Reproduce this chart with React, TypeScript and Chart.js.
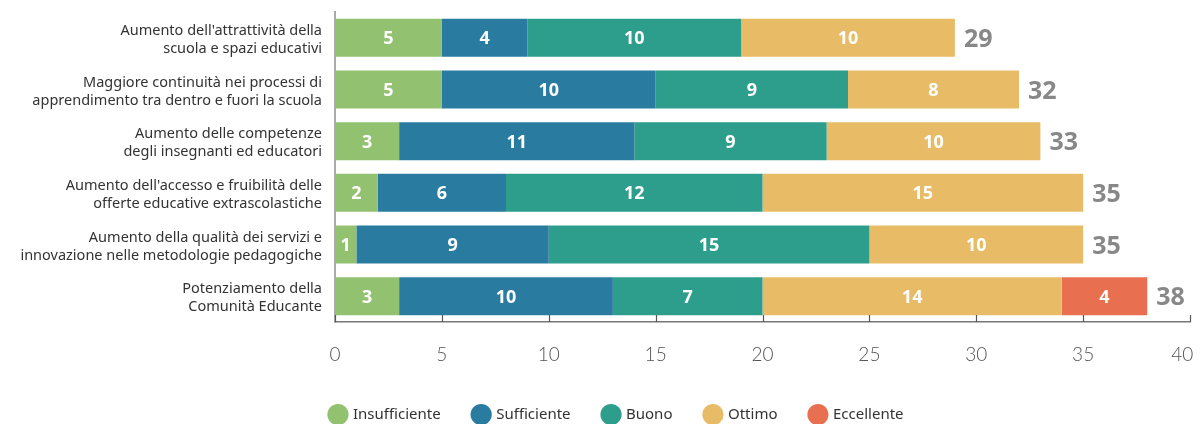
import React, { useEffect, useRef } from "react";
import { Chart, registerables } from "chart.js";

Chart.register(...registerables);

const categories: string[][] = [
  ["Aumento dell'attrattività della", "scuola e spazi educativi"],
  ["Maggiore continuità nei processi di", "apprendimento tra dentro e fuori la scuola"],
  ["Aumento delle competenze", "degli insegnanti ed educatori"],
  ["Aumento dell'accesso e fruibilità delle", "offerte educative extrascolastiche"],
  ["Aumento della qualità dei servizi e", "innovazione nelle metodologie pedagogiche"],
  ["Potenziamento della", "Comunità Educante"],
];

const insufficiente = [5, 5, 3, 2, 1, 3];
const sufficiente = [4, 10, 11, 6, 9, 10];
const buono = [10, 9, 9, 12, 15, 7];
const ottimo = [10, 8, 10, 15, 10, 14];
const eccellente = [null, null, null, null, null, 4];

const seriesNames = ["Insufficiente", "Sufficiente", "Buono", "Ottimo", "Eccellente"];
const seriesColors = ["#92C16F", "#2A7BA0", "#2E9E8C", "#E8BB66", "#E86F50"];
const xTicks = [0, 5, 10, 15, 20, 25, 30, 35, 40];

const FONT = "'Noto Sans', sans-serif";
const TICK_FONT = "Lato, 'Noto Sans', sans-serif";

const overlayPlugin = {
  id: "overlay",
  afterDatasetsDraw(chart: any) {
    const ctx = chart.ctx;
    const xScale = chart.scales.x;
    const area = chart.chartArea;
    ctx.save();
    ctx.strokeStyle = "#555";
    ctx.lineWidth = 1.2;
    xTicks.forEach((v) => {
      const px = Math.round(xScale.getPixelForValue(v)) + 0.5;
      ctx.beginPath();
      ctx.moveTo(px, area.bottom - 7);
      ctx.lineTo(px, area.bottom);
      ctx.stroke();
    });
    ctx.fillStyle = "#ffffff";
    ctx.font = `bold 18px ${FONT}`;
    ctx.textAlign = "center";
    ctx.textBaseline = "middle";
    chart.data.datasets.forEach((ds: any, di: number) => {
      const meta = chart.getDatasetMeta(di);
      meta.data.forEach((el: any, i: number) => {
        const v = ds.data[i];
        if (v == null || v === 0) return;
        const cx = (el.x + el.base) / 2;
        ctx.fillText(String(v), cx, el.y + 1.5);
      });
    });
    ctx.fillStyle = "#888888";
    ctx.font = `bold 25px ${FONT}`;
    ctx.textAlign = "left";
    categories.forEach((_, i) => {
      let total = 0;
      chart.data.datasets.forEach((ds: any) => {
        total += ds.data[i] || 0;
      });
      const el = chart.getDatasetMeta(0).data[i];
      const px = xScale.getPixelForValue(total);
      ctx.fillText(String(total), px + 9, el.y + 2);
    });
    ctx.restore();
  },
};

export default function App() {
  const ref = useRef<HTMLCanvasElement | null>(null);
  useEffect(() => {
    if (!ref.current) return;
    const data = [insufficiente, sufficiente, buono, ottimo, eccellente];
    const chart = new Chart(ref.current, {
      type: "bar",
      data: {
        labels: categories,
        datasets: seriesNames.map((name, i) => ({
          label: name,
          data: data[i] as any,
          backgroundColor: seriesColors[i],
          borderWidth: 0,
          barPercentage: 0.735,
          categoryPercentage: 1,
        })),
      },
      options: {
        indexAxis: "y",
        animation: false,
        responsive: false,
        layout: { padding: { top: 4, right: -30, left: 0, bottom: -8 } },
        scales: {
          x: {
            stacked: true,
            min: 0,
            max: 40,
            afterFit: (s: any) => {
              s.height = 52;
              s.paddingLeft = 0;
              s.paddingRight = 6;
              s.paddingTop = 0;
              s.paddingBottom = 0;
            },
            afterBuildTicks: (s: any) => {
              s.ticks = xTicks.map((v) => ({ value: v }));
            },
            grid: { display: false, drawTicks: false },
            border: { display: true, color: "#777", width: 1.5 },
            ticks: {
              padding: 21,
              color: "#555",
              font: { family: TICK_FONT, size: 19, weight: "300" as any },
              callback: (v: any) => (Number(v) === 40 ? "40   " : String(v)),
            },
          },
          y: {
            stacked: true,
            afterFit: (s: any) => {
              s.width = 327;
              s.paddingTop = 0;
              s.paddingBottom = 0;
            },
            grid: { display: false, drawTicks: false },
            border: { display: true, color: "#aaa", width: 2 },
            ticks: {
              padding: 13,
              labelOffset: 2,
              color: "#333",
              font: { family: FONT, size: 14.5, lineHeight: 1.24 },
            },
          },
        },
        plugins: {
          legend: {
            position: "bottom",
            labels: {
              usePointStyle: true,
              pointStyle: "circle",
              padding: 33,
              color: "#333",
              font: { family: FONT, size: 15 },
            },
          },
          tooltip: { enabled: false },
        },
      },
      plugins: [overlayPlugin],
    });
    return () => chart.destroy();
  }, []);
  return (
    <div style={{ width: 1188, height: 416, position: "relative" }}>
      <canvas ref={ref} width={1188} height={416} style={{ display: "block" }} />
    </div>
  );
}
